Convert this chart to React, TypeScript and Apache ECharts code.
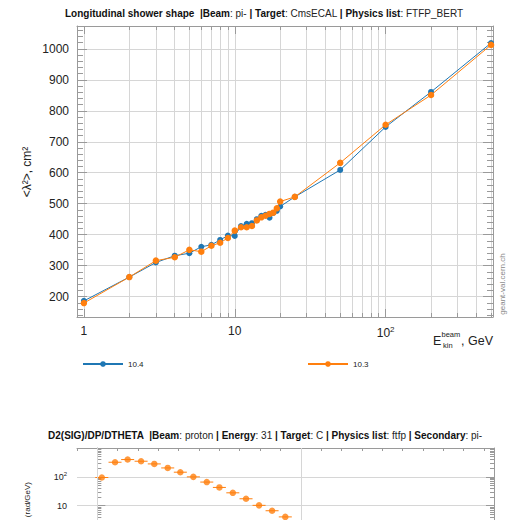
import React, { useEffect, useRef } from 'react';
import * as echarts from 'echarts';

// ---- Chart 1: Longitudinal shower shape ----
const energies = [1, 2, 3, 4, 5, 6, 7, 8, 9, 10, 11, 12, 13, 14, 15, 16, 17, 18, 19, 20, 25, 50, 100, 200, 500];
const lambda2_104 = [186, 263, 310, 332, 340, 361, 367, 383, 397, 396, 428, 435, 437, 450, 461, 464, 455, 470, 477, 491, 522, 609, 748, 861, 1019];
const lambda2_103 = [179, 263, 316, 327, 351, 345, 364, 374, 389, 413, 424, 424, 428, 446, 456, 461, 467, 471, 485, 507, 522, 632, 755, 851, 1013];
const seriesNames = ['10.4', '10.3'];

// ---- Chart 2: D2(SIG)/DP/DTHETA (partially visible) ----
const momenta = [0.22, 0.87, 1.49, 2.15, 2.8, 3.46, 4.08, 4.72, 5.38, 6.0, 6.66, 7.31, 7.95, 8.59, 9.24];
const xsec = [95, 321, 398, 348, 281, 204, 145, 100, 66, 43, 28, 17.4, 10.3, 6.7, 4.1];
const binHalf = [0.32, 0.32, 0.32, 0.32, 0.32, 0.32, 0.32, 0.32, 0.32, 0.32, 0.32, 0.32, 0.32, 0.32, 0.32];

const BLUE = '#1f77b4';
const ORANGE = '#ff7f0e';
const FRAME = '#9a9a9a';
const GRIDC = '#d6d6d6';
const FONT = 'Liberation Sans, Arial, Helvetica, sans-serif';
const TXT = '#222';

const logLabel = (v: number) => {
  if (v === 1) return '1';
  if (v === 10) return '10';
  const e = Math.round(Math.log10(v));
  return '10{sup|' + e + '}';
};

export default function App() {
  const ref = useRef<HTMLDivElement>(null);
  useEffect(() => {
    if (!ref.current) return;
    const chart = echarts.init(ref.current, undefined, { renderer: 'svg' });
    const tickStyle = { color: FRAME, width: 1 };
    const option: any = {
      animation: false,
      backgroundColor: '#fff',
      textStyle: { fontFamily: FONT },
      grid: [
        { left: 77, top: 26, width: 416, height: 291 },
        { left: 77, top: 448, width: 417, height: 72 },
      ],
      xAxis: [
        {
          gridIndex: 0, type: 'log', min: 0.9, max: 515, position: 'bottom',
          axisLine: { show: true, lineStyle: { color: FRAME } },
          axisTick: { show: true, inside: true, length: 8, lineStyle: tickStyle },
          minorTick: { show: true, splitNumber: 9, length: 4, lineStyle: tickStyle },
          splitLine: { show: true, lineStyle: { color: GRIDC } },
          minorSplitLine: { show: true, lineStyle: { color: GRIDC } },
          axisLabel: {
            formatter: logLabel, showMinLabel: false, showMaxLabel: false, margin: 8,
            fontSize: 12, color: TXT, fontFamily: FONT,
            rich: { sup: { fontSize: 8, color: TXT, fontFamily: FONT, padding: [0, 0, 7, 0] } },
          },
        },
        {
          gridIndex: 0, type: 'log', min: 0.9, max: 515, position: 'top',
          axisLine: { show: true, lineStyle: { color: FRAME } },
          axisTick: { show: true, inside: true, length: 8, lineStyle: tickStyle },
          minorTick: { show: true, splitNumber: 9, length: 4, lineStyle: tickStyle },
          splitLine: { show: false }, axisLabel: { show: false },
        },
        {
          gridIndex: 1, type: 'value', min: -1, max: 19.5, interval: 1, position: 'top',
          axisLine: { show: true, lineStyle: { color: FRAME } },
          axisTick: { show: true, inside: true, length: 3, lineStyle: tickStyle },
          splitLine: { show: false }, axisLabel: { show: false },
        },
      ],
      yAxis: [
        {
          gridIndex: 0, type: 'value', min: 134, max: 1074, splitNumber: 9, position: 'left',
          axisLine: { show: true, lineStyle: { color: FRAME } },
          axisTick: { show: true, inside: true, length: 10, lineStyle: tickStyle },
          minorTick: { show: true, splitNumber: 5, length: 6, lineStyle: tickStyle },
          splitLine: { show: true, lineStyle: { color: GRIDC } },
          axisLabel: {
            formatter: (v: number) => String(v),
            showMinLabel: false, showMaxLabel: false, fontSize: 12, color: TXT, margin: 8, fontFamily: FONT,
          },
        },
        {
          gridIndex: 0, type: 'value', min: 134, max: 1074, splitNumber: 9, position: 'right',
          axisLine: { show: true, lineStyle: { color: FRAME } },
          axisTick: { show: true, inside: true, length: 10, lineStyle: tickStyle },
          minorTick: { show: true, splitNumber: 5, length: 6, lineStyle: tickStyle },
          splitLine: { show: false }, axisLabel: { show: false },
        },
        {
          gridIndex: 1, type: 'log', min: 3.2, max: 1000, position: 'left',
          axisLine: { show: true, lineStyle: { color: FRAME } },
          axisTick: { show: true, inside: true, length: 8, lineStyle: tickStyle },
          minorTick: { show: true, splitNumber: 9, length: 4, lineStyle: tickStyle },
          splitLine: { show: true, lineStyle: { color: GRIDC } },
          axisLabel: {
            formatter: logLabel, showMinLabel: false, showMaxLabel: false, fontSize: 9, color: TXT, margin: 10, fontFamily: FONT,
            rich: { sup: { fontSize: 6, color: TXT, fontFamily: FONT, padding: [0, 0, 5, 0] } },
          },
        },
        {
          gridIndex: 1, type: 'log', min: 3.2, max: 1000, position: 'right',
          axisLine: { show: true, lineStyle: { color: FRAME } },
          axisTick: { show: true, inside: true, length: 8, lineStyle: tickStyle },
          minorTick: { show: true, splitNumber: 9, length: 4, lineStyle: tickStyle },
          splitLine: { show: false }, axisLabel: { show: false },
        },
      ],
      legend: [
        {
          data: [seriesNames[0]], left: 77, top: 355, itemWidth: 40, itemHeight: 7, itemGap: 8,
          textStyle: { fontSize: 8, color: TXT, fontFamily: FONT },
        },
        {
          data: [seriesNames[1]], left: 302, top: 355, itemWidth: 40, itemHeight: 7, itemGap: 8,
          textStyle: { fontSize: 8, color: TXT, fontFamily: FONT },
        },
      ],
      series: [
        {
          name: seriesNames[0], type: 'line', xAxisIndex: 0, yAxisIndex: 0,
          data: energies.map((e, i) => [e, lambda2_104[i]]),
          symbol: 'circle', symbolSize: 6, itemStyle: { color: BLUE },
          lineStyle: { color: BLUE, width: 1 }, z: 3,
        },
        {
          name: seriesNames[1], type: 'line', xAxisIndex: 0, yAxisIndex: 0,
          data: energies.map((e, i) => [e, lambda2_103[i]]),
          symbol: 'circle', symbolSize: 6.5, itemStyle: { color: ORANGE },
          lineStyle: { color: ORANGE, width: 1 }, z: 4,
        },
        {
          name: 'xsec-err', type: 'custom', xAxisIndex: 2, yAxisIndex: 2,
          data: momenta.map((m, i) => [m, xsec[i], binHalf[i]]),
          encode: { x: 0, y: 1 },
          renderItem: (params: any, api: any) => {
            const x = api.value(0), y = api.value(1), h = api.value(2);
            const p1 = api.coord([x - h, y]);
            const p2 = api.coord([x + h, y]);
            return {
              type: 'line',
              shape: { x1: p1[0], y1: p1[1], x2: p2[0], y2: p2[1] },
              style: { stroke: ORANGE, lineWidth: 1 },
            };
          },
          z: 3,
        },
        {
          name: 'xsec', type: 'scatter', xAxisIndex: 2, yAxisIndex: 2,
          data: momenta.map((m, i) => [m, xsec[i]]),
          symbol: 'circle', symbolSize: 6.5, itemStyle: { color: ORANGE }, z: 4,
          markLine: {
            silent: true, symbol: 'none', label: { show: false },
            lineStyle: { color: GRIDC, type: 'solid', width: 1 },
            data: [{ xAxis: 0 }, { xAxis: 10 }],
          },
        },
      ],
      graphic: [
        {
          type: 'text', x: 264, y: 13,
          style: {
            text: '{b|Longitudinal shower shape  |Beam}{n|: pi- }{b|| Target}{n|: CmsECAL }{b|| Physics list}{n|: FTFP_BERT}',
            align: 'center', verticalAlign: 'middle',
            rich: {
              b: { fontSize: 10, fontWeight: 'bold', fill: '#111', fontFamily: FONT },
              n: { fontSize: 10, fill: '#222', fontFamily: FONT },
            },
          },
        },
        {
          type: 'text', x: 27, y: 172, rotation: Math.PI / 2,
          style: { text: '<λ²>, cm²', fontSize: 12, fill: TXT, fontFamily: FONT, align: 'center', verticalAlign: 'middle' },
        },
        { type: 'text', x: 433, y: 341, style: { text: 'E', fontSize: 12.5, fill: TXT, fontFamily: FONT, align: 'left', verticalAlign: 'middle' } },
        { type: 'text', x: 441.5, y: 334, style: { text: 'beam', fontSize: 7.5, fill: TXT, fontFamily: FONT, align: 'left', verticalAlign: 'middle' } },
        { type: 'text', x: 443, y: 345.5, style: { text: 'kin', fontSize: 7.5, fill: TXT, fontFamily: FONT, align: 'left', verticalAlign: 'middle' } },
        { type: 'text', x: 493, y: 341, style: { text: ', GeV', fontSize: 12.5, fill: TXT, fontFamily: FONT, align: 'right', verticalAlign: 'middle' } },
        {
          type: 'text', x: 502, y: 284, rotation: Math.PI / 2,
          style: { text: 'geant-val.cern.ch', fontSize: 8, fill: '#888', fontFamily: FONT, align: 'center', verticalAlign: 'middle' },
        },
        {
          type: 'text', x: 265, y: 435,
          style: {
            text: '{b|D2(SIG)/DP/DTHETA  |Beam}{n|: proton }{b|| Energy}{n|: 31 }{b|| Target}{n|: C }{b|| Physics list}{n|: ftfp }{b|| Secondary}{n|: pi-}',
            align: 'center', verticalAlign: 'middle',
            rich: {
              b: { fontSize: 10, fontWeight: 'bold', fill: '#111', fontFamily: FONT },
              n: { fontSize: 10, fill: '#222', fontFamily: FONT },
            },
          },
        },
        {
          type: 'text', x: 27, y: 482, rotation: Math.PI / 2,
          style: { text: '(rad/GeV)', fontSize: 8, fill: TXT, fontFamily: FONT, align: 'right', verticalAlign: 'middle' },
        },
      ],
    };
    chart.setOption(option);
    return () => chart.dispose();
  }, []);
  return <div ref={ref} style={{ position: 'fixed', left: 0, top: 0, width: 514, height: 520 }} />;
}
